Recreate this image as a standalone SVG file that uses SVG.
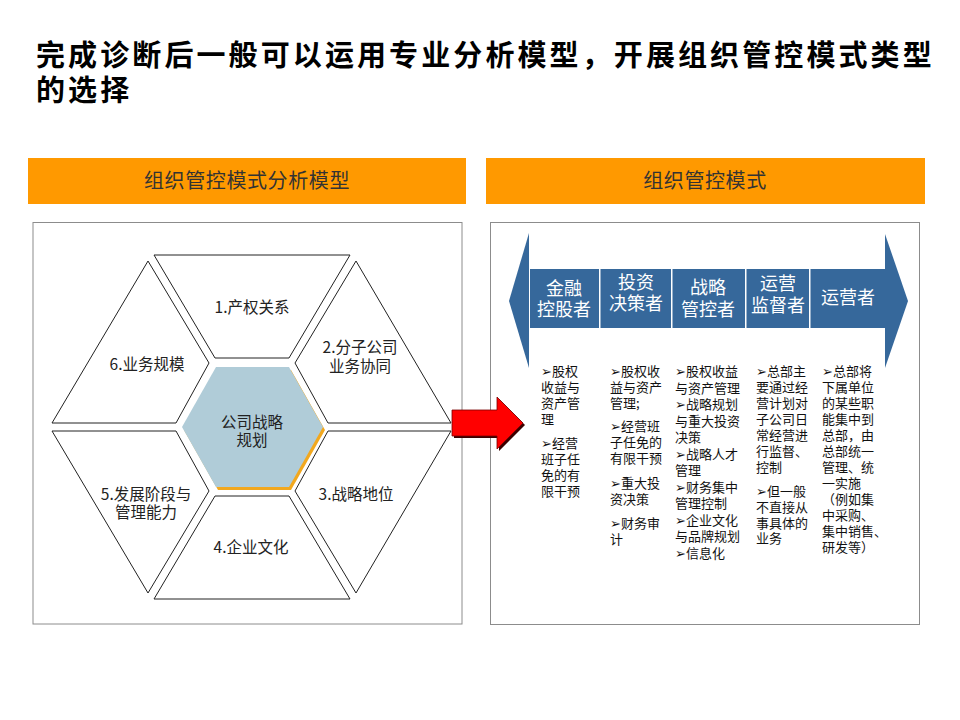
<svg xmlns="http://www.w3.org/2000/svg" width="960" height="720" viewBox="0 0 960 720">
<style>
  text { font-family: "Noto Sans CJK SC", "Liberation Sans", sans-serif; }
  .title { font-size: 29px; font-weight: bold; fill: #000; letter-spacing: 3.1px; }
  .bar { fill: #ff9900; }
  .barText { font-size: 20px; fill: #333; text-anchor: middle; letter-spacing: 0.6px; }
  .panel { fill: #fff; stroke: #8c8c8c; stroke-width: 1; }
  .piece { fill: #fff; stroke: #222; stroke-width: 1; }
  .pt { font-size: 15.5px; fill: #222; text-anchor: middle; }
  .band { fill: #36689b; }
  .bt { font-size: 18px; fill: #fff; text-anchor: middle; }
  .col { font-size: 13px; fill: #111; }
</style>

<g id="title">
  <text class="title" x="36" y="66">完成诊断后一般可以运用专业分析模型，开展组织管控模式类型</text>
  <text class="title" x="36" y="101">的选择</text>
</g>

<g id="header-left">
  <rect class="bar" x="28" y="158" width="438" height="46"/>
  <text class="barText" x="247" y="188">组织管控模式分析模型</text>
</g>
<g id="header-right">
  <rect class="bar" x="486" y="158" width="439" height="46"/>
  <text class="barText" x="705" y="188">组织管控模式</text>
</g>

<g id="panel-left">
  <rect class="panel" x="33" y="222.5" width="429" height="401.5"/>
</g>
<g id="panel-right">
  <rect class="panel" x="490.5" y="222.5" width="429" height="402"/>
</g>

<g id="piece-1">
  <polygon class="piece" points="154,255 350,255 289,358 215,358"/>
  <text class="pt" x="252" y="313">1.产权关系</text>
</g>
<g id="piece-2">
  <polygon class="piece" points="356,261 451,423 328,423 295,363"/>
  <text class="pt" x="360" y="353">2.分子公司</text>
  <text class="pt" x="360" y="372">业务协同</text>
</g>
<g id="piece-3">
  <polygon class="piece" points="451,431 328,431 295,491 356,593"/>
  <text class="pt" x="356" y="500">3.战略地位</text>
</g>
<g id="piece-4">
  <polygon class="piece" points="154,599 350,599 289,496 215,496"/>
  <text class="pt" x="251" y="553">4.企业文化</text>
</g>
<g id="piece-5">
  <polygon class="piece" points="148,593 52,431 176,431 209,491"/>
  <text class="pt" x="146" y="500">5.发展阶段与</text>
  <text class="pt" x="146" y="518">管理能力</text>
</g>
<g id="piece-6">
  <polygon class="piece" points="148,261 52,423 176,423 209,363"/>
  <text class="pt" x="147" y="370">6.业务规模</text>
</g>
<g id="center">
  <polygon points="218,370 291,370 325,430 291,490 218,490 184,430" fill="#f2a81e"/>
  <polygon points="216,367 289,367 323,427 289,487 216,487 182,427" fill="#b0ccd8"/>
  <text class="pt" x="252" y="428">公司战略</text>
  <text class="pt" x="252" y="446">规划</text>
</g>

<g id="mode-band">
  <polygon class="band" points="529,233 509,301 529,368"/>
  <polygon class="band" points="885,234 908,301 885,368"/>
  <rect class="band" x="530" y="269" width="69" height="59"/>
  <rect class="band" x="600.5" y="269" width="70.5" height="59"/>
  <rect class="band" x="672.5" y="269" width="72.5" height="59"/>
  <rect class="band" x="746.5" y="269" width="62.5" height="59"/>
  <rect class="band" x="810.5" y="269" width="74.5" height="59"/>
  <text class="bt" x="564" y="294.5">金融</text>
  <text class="bt" x="564" y="316">控股者</text>
  <text class="bt" x="636" y="288.5">投资</text>
  <text class="bt" x="636" y="310">决策者</text>
  <text class="bt" x="708" y="293.5">战略</text>
  <text class="bt" x="708" y="316">管控者</text>
  <text class="bt" x="778" y="290">运营</text>
  <text class="bt" x="778" y="312">监督者</text>
  <text class="bt" x="848" y="304">运营者</text>
</g>

<g id="col-1">
  <text class="col" x="541">
    <tspan x="541" y="376">➢股权</tspan>
    <tspan x="541" y="392">收益与</tspan>
    <tspan x="541" y="408">资产管</tspan>
    <tspan x="541" y="424">理</tspan>
    <tspan x="541" y="448">➢经营</tspan>
    <tspan x="541" y="464">班子任</tspan>
    <tspan x="541" y="480">免的有</tspan>
    <tspan x="541" y="496">限干预</tspan>
  </text>
</g>
<g id="col-2">
  <text class="col" x="610">
    <tspan x="610" y="376">➢股权收</tspan>
    <tspan x="610" y="392">益与资产</tspan>
    <tspan x="610" y="408">管理;</tspan>
    <tspan x="610" y="431">➢经营班</tspan>
    <tspan x="610" y="447">子任免的</tspan>
    <tspan x="610" y="463">有限干预</tspan>
    <tspan x="610" y="488">➢重大投</tspan>
    <tspan x="610" y="504">资决策</tspan>
    <tspan x="610" y="528">➢财务审</tspan>
    <tspan x="610" y="544">计</tspan>
  </text>
</g>
<g id="col-3">
  <text class="col" x="675">
    <tspan x="675" y="376">➢股权收益</tspan>
    <tspan x="675" y="392.5">与资产管理</tspan>
    <tspan x="675" y="409">➢战略规划</tspan>
    <tspan x="675" y="425.5">与重大投资</tspan>
    <tspan x="675" y="442">决策</tspan>
    <tspan x="675" y="458.5">➢战略人才</tspan>
    <tspan x="675" y="475">管理</tspan>
    <tspan x="675" y="491.5">➢财务集中</tspan>
    <tspan x="675" y="508">管理控制</tspan>
    <tspan x="675" y="524.5">➢企业文化</tspan>
    <tspan x="675" y="541">与品牌规划</tspan>
    <tspan x="675" y="557.5">➢信息化</tspan>
  </text>
</g>
<g id="col-4">
  <text class="col" x="756">
    <tspan x="756" y="376">➢总部主</tspan>
    <tspan x="756" y="392">要通过经</tspan>
    <tspan x="756" y="408">营计划对</tspan>
    <tspan x="756" y="424">子公司日</tspan>
    <tspan x="756" y="440">常经营进</tspan>
    <tspan x="756" y="456">行监督、</tspan>
    <tspan x="756" y="472">控制</tspan>
    <tspan x="756" y="496">➢但一般</tspan>
    <tspan x="756" y="512">不直接从</tspan>
    <tspan x="756" y="528">事具体的</tspan>
    <tspan x="756" y="543">业务</tspan>
  </text>
</g>
<g id="col-5">
  <text class="col" x="822">
    <tspan x="822" y="376">➢总部将</tspan>
    <tspan x="822" y="392">下属单位</tspan>
    <tspan x="822" y="408">的某些职</tspan>
    <tspan x="822" y="424">能集中到</tspan>
    <tspan x="822" y="440">总部，由</tspan>
    <tspan x="822" y="456">总部统一</tspan>
    <tspan x="822" y="472">管理、统</tspan>
    <tspan x="822" y="488">一实施</tspan>
    <tspan x="822" y="504">（例如集</tspan>
    <tspan x="822" y="520">中采购、</tspan>
    <tspan x="822" y="536">集中销售、</tspan>
    <tspan x="822" y="552">研发等）</tspan>
  </text>
</g>

<g id="connectors">
  <polygon points="454,412 499,412 499,399 525,425 499,451 499,438 454,438" fill="#3a0000"/>
  <polygon points="452,410 497,410 497,397 523,423 497,449 497,436 452,436" fill="#ff0000" stroke="#7a0000" stroke-width="0.8"/>
</g>
</svg>
